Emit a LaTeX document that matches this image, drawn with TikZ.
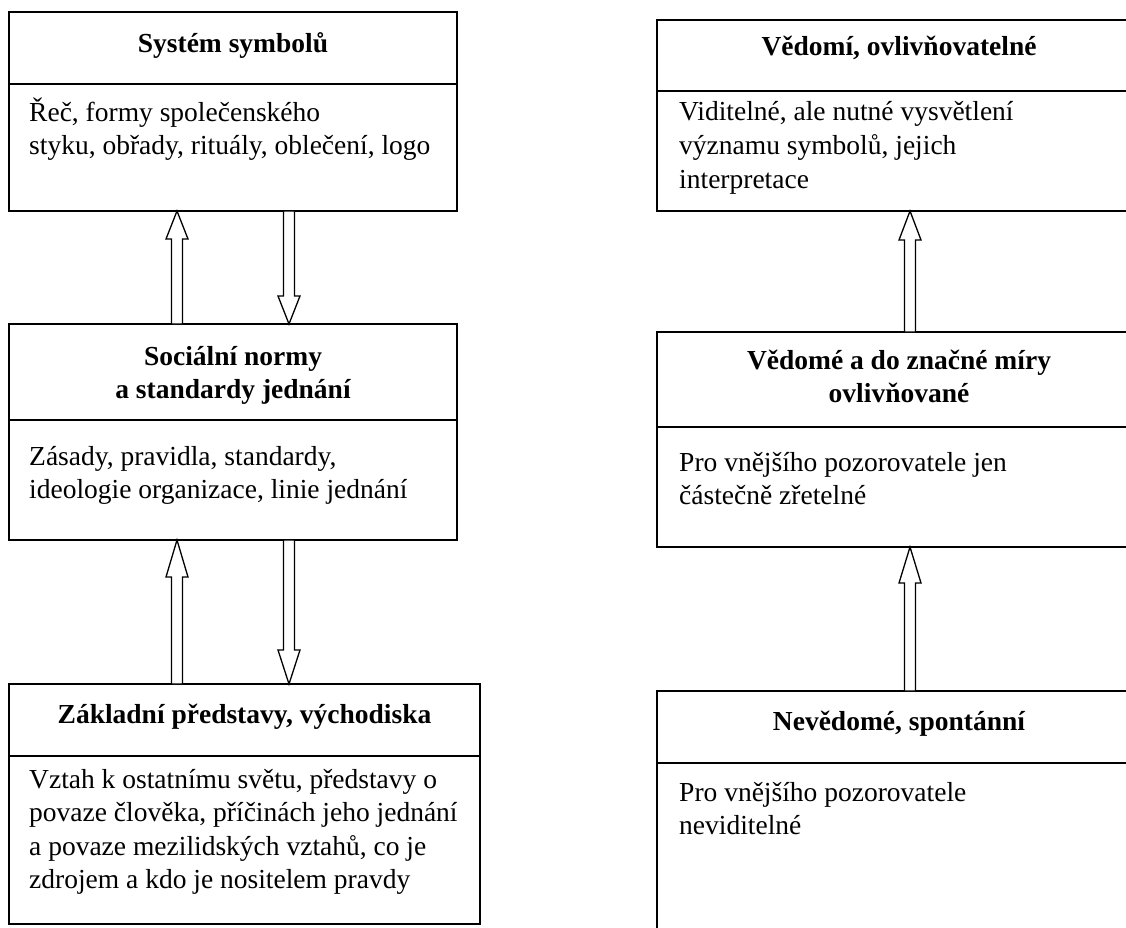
\documentclass[tikz,border=0pt]{standalone}
\usepackage{fontspec}
\setmainfont{Liberation Serif}
\usetikzlibrary{calc}
\begin{document}
\begin{tikzpicture}[x=1pt,y=1pt,
  box/.style={draw=black, line width=1.4pt, rectangle, inner sep=0pt, outer sep=0pt},
  ln/.style={draw=black, line width=1.4pt},
  txt/.style={anchor=base west, inner sep=0pt, font=\fontsize{27.5}{33}\selectfont},
  ttl/.style={anchor=base, inner sep=0pt, font=\fontsize{27.5}{33}\selectfont\bfseries},
  blk/.style={draw=black, fill=white, line width=1.3pt, line join=miter},
  uparr/.style={blk, to path={let \p1=(\tikztostart), \p2=(\tikztotarget) in
    (\x1-5.5pt,\y1) -- (\x1-5.5pt,\y2-#1) -- (\x1-11pt,\y2-#1) -- (\x2,\y2)
    -- (\x1+11pt,\y2-#1) -- (\x1+5.5pt,\y2-#1) -- (\x1+5.5pt,\y1) -- cycle}},
  dnarr/.style={blk, to path={let \p1=(\tikztostart), \p2=(\tikztotarget) in
    (\x1-5.5pt,\y1) -- (\x1-5.5pt,\y2+#1) -- (\x1-11pt,\y2+#1) -- (\x2,\y2)
    -- (\x1+11pt,\y2+#1) -- (\x1+5.5pt,\y2+#1) -- (\x1+5.5pt,\y1) -- cycle}}
]
\useasboundingbox (0,0) rectangle (1126,-927);
\clip (0,0) rectangle (1126,-927);

% ---------- left column ----------
\node[box, minimum width=448pt, minimum height=199pt] (b1) at (233,-111.5) {};
\draw[ln] ([yshift=-72pt]b1.north west) -- ([yshift=-72pt]b1.north east);
\node[ttl] (t1) at (233,-52) {Systém symbolů};
\node[txt] (t1a) at (29,-121) {Řeč, formy společenského};
\node[txt] (t1b) at (29,-154.5) {styku, obřady, rituály, oblečení, logo};

\node[box, minimum width=448pt, minimum height=216pt] (b2) at (233,-432) {};
\draw[ln] ([yshift=-96pt]b2.north west) -- ([yshift=-96pt]b2.north east);
\node[ttl] (t2) at (233,-365) {Sociální normy};
\node[ttl] (t2b) at (233,-398.5) {a standardy jednání};
\node[txt] (t2c) at (29,-465) {Zásady, pravidla, standardy,};
\node[txt] (t2d) at (29,-498.5) {ideologie organizace, linie jednání};

\node[box, minimum width=471pt, minimum height=240pt] (b3) at (244.5,-804) {};
\draw[ln] ([yshift=-72pt]b3.north west) -- ([yshift=-72pt]b3.north east);
\node[ttl] (t3) at (244.5,-723) {Základní představy, východiska};
\node[txt] (t3a) at (29,-788) {Vztah k ostatnímu světu, představy o};
\node[txt] (t3b) at (29,-821.5) {povaze člověka, příčinách jeho jednání};
\node[txt] (t3c) at (29,-855) {a povaze mezilidských vztahů, co je};
\node[txt] (t3d) at (29,-888.5) {zdrojem a kdo je nositelem pravdy};

\coordinate (xu) at (177,0);
\coordinate (xd) at (289,0);
\draw[uparr=28pt] (b2.north -| xu) to (b1.south -| xu);
\draw[dnarr=28pt] (b1.south -| xd) to (b2.north -| xd);
\draw[uparr=37pt] (b3.north -| xu) to (b2.south -| xu);
\draw[dnarr=34pt] (b2.south -| xd) to (b3.north -| xd);

% ---------- right column ----------
\node[box, minimum width=484pt, minimum height=191pt] (b4) at (899,-115.5) {};
\draw[ln] ([yshift=-71pt]b4.north west) -- ([yshift=-71pt]b4.north east);
\node[ttl] (t4) at (899,-55) {Vědomí, ovlivňovatelné};
\node[txt] (t4a) at (679,-120) {Viditelné, ale nutné vysvětlení};
\node[txt] (t4b) at (679,-154) {významu symbolů, jejich};
\node[txt] (t4c) at (679,-188) {interpretace};

\node[box, minimum width=484pt, minimum height=215pt] (b5) at (899,-439.5) {};
\draw[ln] ([yshift=-95pt]b5.north west) -- ([yshift=-95pt]b5.north east);
\node[ttl] (t5) at (899,-369) {Vědomé a do značné míry};
\node[ttl] (t5b) at (899,-402) {ovlivňované};
\node[txt] (t5c) at (679,-471) {Pro vnějšího pozorovatele jen};
\node[txt] (t5d) at (679,-504) {částečně zřetelné};

\node[box, minimum width=484pt, minimum height=280pt] (b6) at (899,-831) {};
\draw[ln] ([yshift=-72pt]b6.north west) -- ([yshift=-72pt]b6.north east);
\node[ttl] (t6) at (899,-730) {Nevědomé, spontánní};
\node[txt] (t6a) at (679,-801) {Pro vnějšího pozorovatele};
\node[txt] (t6b) at (679,-834) {neviditelné};

\coordinate (xr) at (910,0);
\draw[uparr=29pt] (b5.north -| xr) to (b4.south -| xr);
\draw[uparr=36pt] (b6.north -| xr) to (b5.south -| xr);
\end{tikzpicture}
\end{document}
